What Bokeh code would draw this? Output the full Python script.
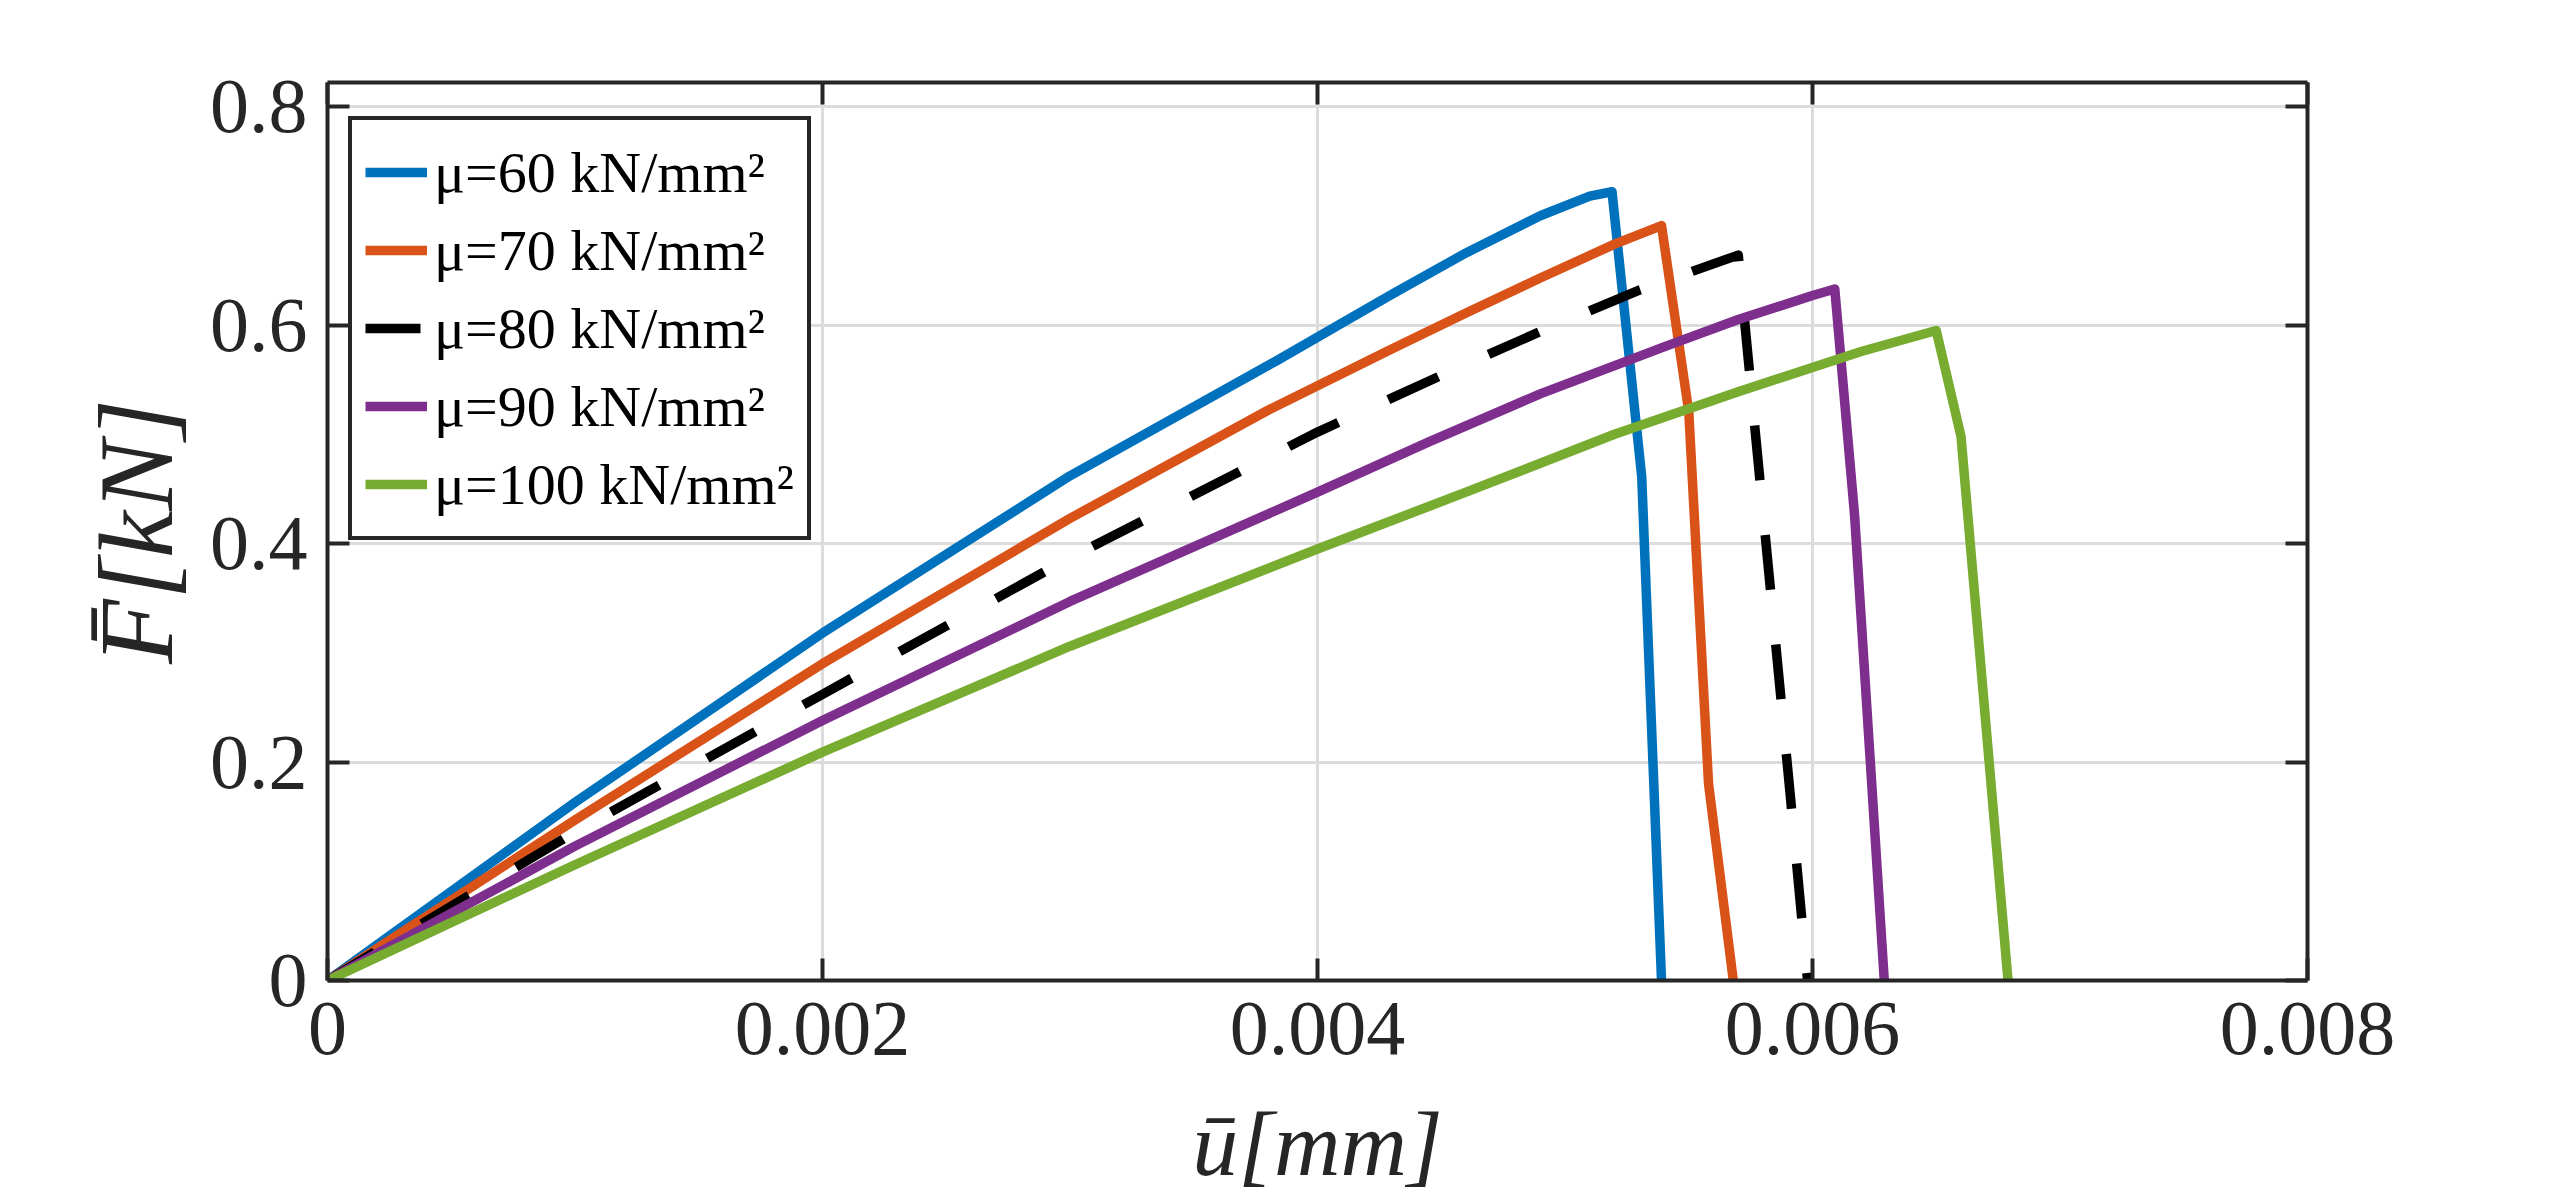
from bokeh.plotting import figure
from bokeh.models import (Range1d, LinearAxis, FixedTicker, NumeralTickFormatter,
                          Legend, LegendItem, Grid)
from bokeh.embed import file_html
from bokeh.resources import INLINE

# ---------------- data ----------------
labels = ["\u03bc=60 kN/mm\u00b2", "\u03bc=70 kN/mm\u00b2", "\u03bc=80 kN/mm\u00b2",
          "\u03bc=90 kN/mm\u00b2", "\u03bc=100 kN/mm\u00b2"]

u_60 = [0.0, 0.001, 0.002, 0.003, 0.00384, 0.0043, 0.0046, 0.0049, 0.0051, 0.00519, 0.00531, 0.00539]
F_60 = [0.0, 0.163, 0.318, 0.462, 0.568, 0.628, 0.666, 0.700, 0.718, 0.722, 0.461, 0.0]

u_70 = [0.0, 0.001, 0.002, 0.003, 0.0038, 0.0043, 0.0046, 0.0049, 0.0052, 0.00539, 0.0055, 0.00558, 0.00568]
F_70 = [0.0, 0.147, 0.290, 0.423, 0.522, 0.578, 0.611, 0.643, 0.674, 0.691, 0.521, 0.180, 0.0]

u_80 = [0.0, 0.001, 0.002, 0.003, 0.004, 0.00453, 0.00492, 0.0053, 0.0057, 0.00591, 0.00598]
F_80 = [0.0, 0.136, 0.262, 0.387, 0.502, 0.557, 0.596, 0.632, 0.664, 0.170, 0.0]

u_90 = [0.0, 0.001, 0.002, 0.003, 0.004, 0.00445, 0.0049, 0.0054, 0.0057, 0.0060, 0.00609, 0.00617, 0.00629]
F_90 = [0.0, 0.123, 0.238, 0.347, 0.447, 0.493, 0.537, 0.580, 0.605, 0.627, 0.633, 0.426, 0.0]

u_100 = [0.0, 0.001, 0.002, 0.003, 0.004, 0.0046, 0.0052, 0.0057, 0.0062, 0.0065, 0.0066, 0.00679]
F_100 = [0.0, 0.106, 0.209, 0.306, 0.395, 0.447, 0.500, 0.539, 0.576, 0.595, 0.498, 0.0]

x_ticks = [0.0, 0.002, 0.004, 0.006, 0.008]
y_ticks = [0.0, 0.2, 0.4, 0.6, 0.8]

colors = ["#0072BD", "#D95319", "#000000", "#7E2F8E", "#77AC30"]
dashes = ["solid", "solid", "55 55", "solid", "solid"]
series = [(u_60, F_60), (u_70, F_70), (u_80, F_80), (u_90, F_90), (u_100, F_100)]

FONT = "Liberation Serif"
AX = "#262626"
FRAME_H = 898

p = figure(frame_width=1980, frame_height=FRAME_H,
           min_border_left=327, min_border_top=82, min_border_right=200,
           min_border_bottom=20,
           x_range=Range1d(0, 0.008), y_range=Range1d(0, 0.822),
           output_backend="svg", toolbar_location=None,
           x_axis_type=None, y_axis_type=None)
p.outline_line_color = None
p.background_fill_color = "white"
p.border_fill_color = "white"

xt = FixedTicker(ticks=x_ticks)
yt = FixedTicker(ticks=y_ticks)


def style_axis(ax, show_labels):
    ax.axis_line_color = AX
    ax.axis_line_width = 4
    ax.major_tick_line_color = AX
    ax.major_tick_line_width = 4
    ax.major_tick_in = 22
    ax.major_tick_out = 0
    ax.minor_tick_line_color = None
    ax.major_label_text_font = FONT
    ax.major_label_text_font_size = "78px"
    ax.major_label_text_color = AX if show_labels else None
    ax.axis_label_text_font = FONT
    ax.axis_label_text_font_style = "italic"
    ax.axis_label_text_color = AX


xb = LinearAxis(ticker=xt, formatter=NumeralTickFormatter(format="0.[000]"))
style_axis(xb, True)
xb.axis_label = "\u016b[mm]"
xb.axis_label_text_font_size = "92px"
xb.major_label_standoff = 22
xb.axis_label_standoff = 36
p.add_layout(xb, "below")

yl = LinearAxis(ticker=yt, formatter=NumeralTickFormatter(format="0.[0]"))
style_axis(yl, True)
yl.axis_label = "F\u0304[kN]"
yl.axis_label_text_font_size = "106px"
yl.major_label_standoff = 20
yl.axis_label_standoff = 12
p.add_layout(yl, "left")

xa = LinearAxis(ticker=xt, formatter=NumeralTickFormatter(format="0.[000]"))
style_axis(xa, False)
xa.major_label_standoff = 0
p.add_layout(xa, "above")

yr = LinearAxis(ticker=yt, formatter=NumeralTickFormatter(format="0.[0]"))
style_axis(yr, False)
yr.major_label_standoff = 0
p.add_layout(yr, "right")

p.add_layout(Grid(dimension=0, ticker=xt, grid_line_color="#dcdcdc", grid_line_width=3))
p.add_layout(Grid(dimension=1, ticker=yt, grid_line_color="#dcdcdc", grid_line_width=3))

items = []
for (xs, ys), c, d, lab in zip(series, colors, dashes, labels):
    r = p.line(xs, ys, line_color=c, line_width=9.5, line_dash=d, line_join="round")
    items.append(LegendItem(label=lab, renderers=[r]))

LEG_H = 5 * 78 + 2 * 13
leg = Legend(items=items, location=(21, FRAME_H - 42 - LEG_H))
leg.padding = 13
leg.spacing = 0
leg.glyph_width = 62
leg.glyph_height = 78
leg.label_height = 78
leg.label_standoff = 7
leg.label_text_font = FONT
leg.label_text_font_size = "58px"
leg.label_text_color = "#000000"
leg.border_line_color = AX
leg.border_line_width = 4
leg.border_line_alpha = 1.0
leg.background_fill_color = "white"
leg.background_fill_alpha = 1.0
p.add_layout(leg, "center")

open("out.html", "w").write(file_html(p, INLINE))
